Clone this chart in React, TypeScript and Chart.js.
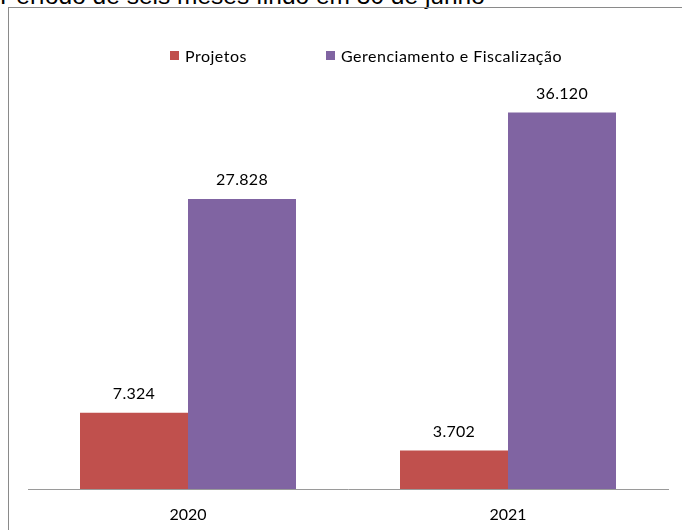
import React, { useEffect, useRef } from "react";
import { Chart, registerables } from "chart.js";

Chart.register(...registerables);

const titleText = "Período de seis meses findo em 30 de junho";
const categories = ["2020", "2021"];
const seriesNames = ["Projetos", "Gerenciamento e Fiscalização"];
const projetos = [7324, 3702];
const gerenciamento = [27828, 36120];
const seriesColors = ["#C0504D", "#8064A2"];

const FONT = "Lato, 'Noto Sans', sans-serif";

function fmt(v: number): string {
  const s = Math.round(v).toString();
  return s.replace(/\B(?=(\d{3})+(?!\d))/g, ".");
}

const dataLabelPlugin = {
  id: "dataLabels",
  afterDatasetsDraw(chart: any) {
    const ctx = chart.ctx;
    ctx.save();
    ctx.font = `16px ${FONT}`;
    ctx.fillStyle = "#000";
    ctx.textAlign = "center";
    ctx.textBaseline = "middle";
    try {
      (ctx as any).letterSpacing = "0.3px";
    } catch (e) {}
    chart.data.datasets.forEach((ds: any, di: number) => {
      const meta = chart.getDatasetMeta(di);
      meta.data.forEach((bar: any, i: number) => {
        ctx.fillText(fmt(ds.data[i]), bar.x, bar.y - 19);
      });
    });
    ctx.restore();
  },
};

export default function App() {
  const ref = useRef<HTMLCanvasElement | null>(null);

  useEffect(() => {
    if (!ref.current) return;
    const chart = new Chart(ref.current, {
      type: "bar",
      data: {
        labels: categories,
        datasets: [
          {
            label: seriesNames[0],
            data: projetos,
            backgroundColor: seriesColors[0],
            categoryPercentage: 0.675,
            barPercentage: 1,
          },
          {
            label: seriesNames[1],
            data: gerenciamento,
            backgroundColor: seriesColors[1],
            categoryPercentage: 0.675,
            barPercentage: 1,
          },
        ],
      },
      options: {
        animation: false,
        responsive: false,
        devicePixelRatio: 1,
        layout: { padding: { top: 72, left: 28, right: 14, bottom: 0 } },
        plugins: {
          legend: { display: false },
          title: { display: false },
          tooltip: { enabled: false },
        },
        scales: {
          x: {
            grid: { display: false, drawTicks: false },
            border: { display: true, color: "#9a9a9a", width: 1 },
            ticks: {
              color: "#000",
              font: { family: FONT, size: 16 },
              padding: 16,
            },
            afterFit: (scale: any) => {
              scale.height = 41;
            },
          },
          y: {
            display: false,
            min: 0,
            max: 40000,
          },
        },
      },
      plugins: [dataLabelPlugin],
    });
    return () => chart.destroy();
  }, []);

  return (
    <div
      style={{
        position: "fixed",
        left: 0,
        top: 0,
        width: 682,
        height: 530,
        overflow: "hidden",
        background: "#fff",
      }}
    >
      <div
        style={{
          position: "absolute",
          left: 0,
          top: -16,
          fontFamily: "'Liberation Sans', Arial, sans-serif",
          fontSize: 24.5,
          lineHeight: "24px",
          color: "#000",
          whiteSpace: "nowrap",
        }}
      >
        {titleText}
      </div>
      <div
        style={{
          position: "absolute",
          left: 8,
          top: 7,
          width: 700,
          height: 600,
          borderLeft: "1px solid #8a8a8a",
          borderTop: "1px solid #8a8a8a",
        }}
      />
      <canvas
        ref={ref}
        width={682}
        height={530}
        style={{ position: "absolute", left: 0, top: 0, width: 682, height: 530 }}
      />
      {seriesNames.map((name, i) => (
        <div
          key={name}
          style={{
            position: "absolute",
            left: i === 0 ? 170 : 326,
            top: 45,
            height: 20,
            display: "flex",
            alignItems: "center",
            fontFamily: FONT,
            fontSize: 16,
            letterSpacing: "0.5px",
            color: "#000",
            whiteSpace: "nowrap",
          }}
        >
          <span
            style={{
              display: "inline-block",
              width: 9,
              height: 9,
              background: seriesColors[i],
              marginRight: 6,
            }}
          />
          <span>{name}</span>
        </div>
      ))}
    </div>
  );
}
